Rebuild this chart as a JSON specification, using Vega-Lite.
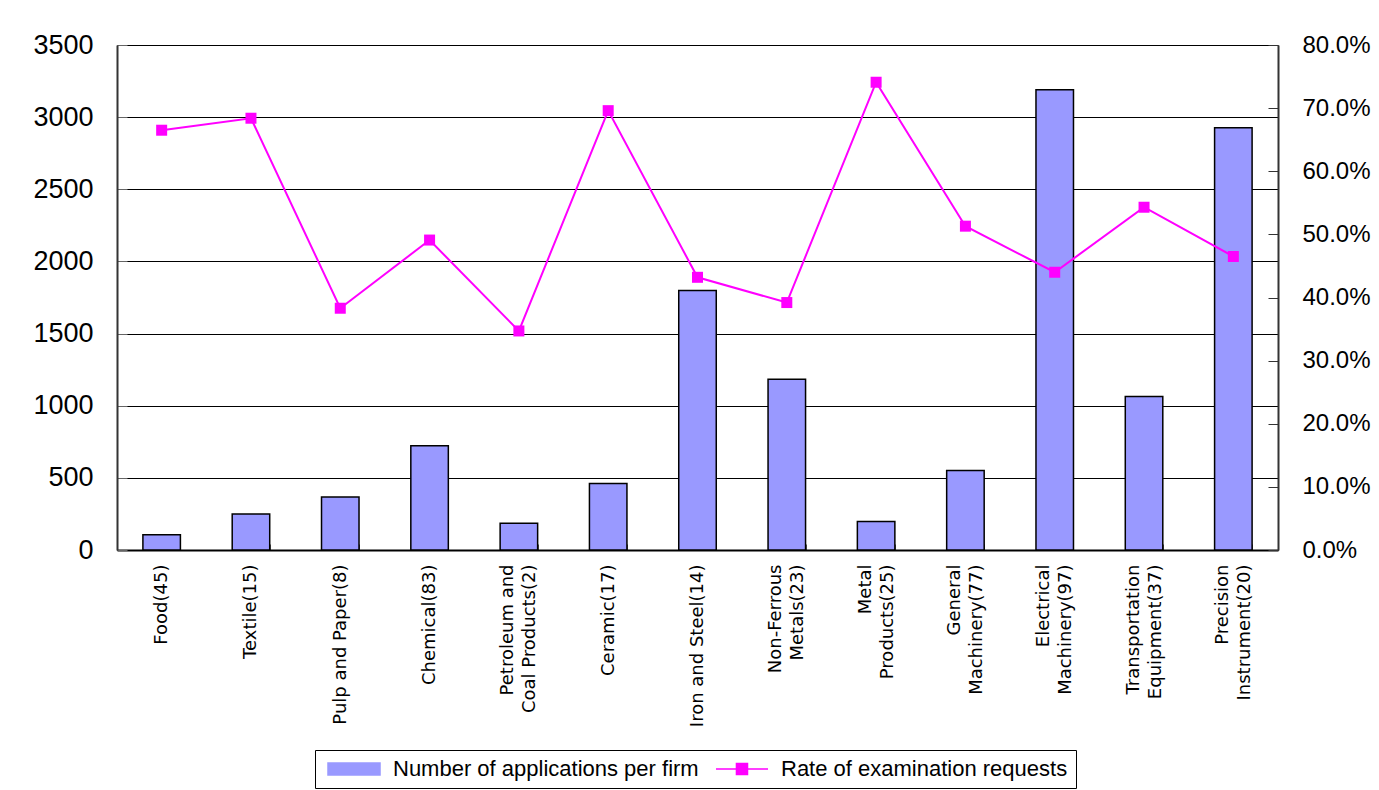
{
  "$schema": "https://vega.github.io/schema/vega-lite/v6.json",
  "width": 1161,
  "height": 505,
  "autosize": {"type": "none"},
  "padding": {"left": 117, "top": 45, "right": 101, "bottom": 240},
  "background": "white",
  "config": {"view": {"stroke": null}, "font": "Liberation Sans"},
  "data": {
    "values": [
      {"cat": "Food(45)", "apps": 105, "rate": 0.665},
      {"cat": "Textile(15)", "apps": 250, "rate": 0.684},
      {"cat": "Pulp and Paper(8)", "apps": 368, "rate": 0.383},
      {"cat": "Chemical(83)", "apps": 722, "rate": 0.491},
      {"cat": "Petroleum and|Coal Products(2)", "apps": 185, "rate": 0.347},
      {"cat": "Ceramic(17)", "apps": 461, "rate": 0.696},
      {"cat": "Iron and Steel(14)", "apps": 1798, "rate": 0.432},
      {"cat": "Non-Ferrous|Metals(23)", "apps": 1183, "rate": 0.392},
      {"cat": "Metal|Products(25)", "apps": 197, "rate": 0.741},
      {"cat": "General|Machinery(77)", "apps": 551, "rate": 0.513},
      {"cat": "Electrical|Machinery(97)", "apps": 3190, "rate": 0.44},
      {"cat": "Transportation|Equipment(37)", "apps": 1063, "rate": 0.543},
      {"cat": "Precision|Instrument(20)", "apps": 2927, "rate": 0.465}
    ]
  },
  "encoding": {
    "x": {
      "field": "cat",
      "type": "nominal",
      "sort": null,
      "scale": {"paddingInner": 0.58, "paddingOuter": 0.29},
      "axis": {
        "title": null,
        "labelAngle": -90,
        "labelAlign": "right",
        "labelBaseline": "middle",
        "labelExpr": "split(datum.label, '|')",
        "labelOffset": {"condition": {"test": "indexof(datum.label, '|') >= 0", "value": -11}, "value": 0},
        "labelFont": "DejaVu Sans",
        "labelFontSize": 18,
        "labelLineHeight": 22,
        "labelColor": "#000",
        "labelPadding": 20,
        "labelLimit": 400,
        "tickBand": "extent",
        "tickSize": -6,
        "tickColor": "#555",
        "domainColor": "#000",
        "domainWidth": 2,
        "grid": false
      }
    }
  },
  "layer": [
    {
      "mark": {"type": "bar", "stroke": "#000", "strokeWidth": 1.5},
      "encoding": {
        "y": {
          "field": "apps",
          "type": "quantitative",
          "scale": {"domain": [0, 3500], "nice": false},
          "axis": {
            "title": null,
            "format": "d",
            "values": [0, 500, 1000, 1500, 2000, 2500, 3000, 3500],
            "labelFontSize": 27,
            "labelColor": "#000",
            "labelPadding": 34,
            "tickSize": -10,
            "tickColor": "#666",
            "domainColor": "#333",
            "domainWidth": 2,
            "grid": true,
            "gridColor": "#000",
            "gridWidth": 1
          }
        },
        "color": {
          "datum": "Number of applications per firm",
          "type": "nominal",
          "scale": {
            "domain": ["Number of applications per firm", "Rate of examination requests"],
            "range": ["#9999FF", "#FF00FF"]
          },
          "legend": {
            "orient": "none",
            "legendX": 198,
            "legendY": 705,
            "direction": "horizontal",
            "title": null,
            "strokeColor": "#000",
            "padding": 8,
            "labelFont": "Liberation Sans",
            "labelFontSize": 22,
            "labelColor": "#000",
            "labelLimit": 500,
            "labelOffset": 48,
            "columnPadding": 12,
            "symbolSize": 144,
            "encode": {
              "symbols": {
                "update": {
                  "shape": {"signal": "datum.value === 'Rate of examination requests' ? 'M-1,0H7.67M2.41,-0.92H4.25V0.92H2.41Z' : 'M-1,-1H7.67V1H-1Z'"},
                  "fill": {"signal": "datum.value === 'Rate of examination requests' ? '#FF00FF' : '#9999FF'"},
                  "stroke": {"signal": "datum.value === 'Rate of examination requests' ? '#FF00FF' : '#000000'"},
                  "strokeWidth": {"value": 1.5},
                  "opacity": {"value": 1}
                }
              }
            }
          }
        }
      }
    },
    {
      "mark": {
        "type": "line",
        "strokeWidth": 2,
        "point": {"shape": "square", "size": 121, "filled": true}
      },
      "encoding": {
        "y": {
          "field": "rate",
          "type": "quantitative",
          "scale": {"domain": [0, 0.8], "nice": false},
          "axis": {
            "orient": "right",
            "title": null,
            "format": ".1%",
            "values": [0, 0.1, 0.2, 0.3, 0.4, 0.5, 0.6, 0.7, 0.8],
            "labelFontSize": 24,
            "labelColor": "#000",
            "labelPadding": 34,
            "tickSize": -10,
            "tickColor": "#333",
            "domainColor": "#333",
            "domainWidth": 2,
            "grid": false
          }
        },
        "color": {
          "datum": "Rate of examination requests",
          "type": "nominal",
          "legend": {
            "orient": "none",
            "legendX": 198,
            "legendY": 705,
            "direction": "horizontal",
            "title": null,
            "strokeColor": "#000",
            "padding": 8,
            "labelFont": "Liberation Sans",
            "labelFontSize": 22,
            "labelColor": "#000",
            "labelLimit": 500,
            "labelOffset": 48,
            "columnPadding": 12,
            "symbolSize": 144,
            "encode": {
              "symbols": {
                "update": {
                  "shape": {"signal": "datum.value === 'Rate of examination requests' ? 'M-1,0H7.67M2.41,-0.92H4.25V0.92H2.41Z' : 'M-1,-1H7.67V1H-1Z'"},
                  "fill": {"signal": "datum.value === 'Rate of examination requests' ? '#FF00FF' : '#9999FF'"},
                  "stroke": {"signal": "datum.value === 'Rate of examination requests' ? '#FF00FF' : '#000000'"},
                  "strokeWidth": {"value": 1.5},
                  "opacity": {"value": 1}
                }
              }
            }
          }
        }
      }
    }
  ],
  "resolve": {"scale": {"y": "independent"}}
}
